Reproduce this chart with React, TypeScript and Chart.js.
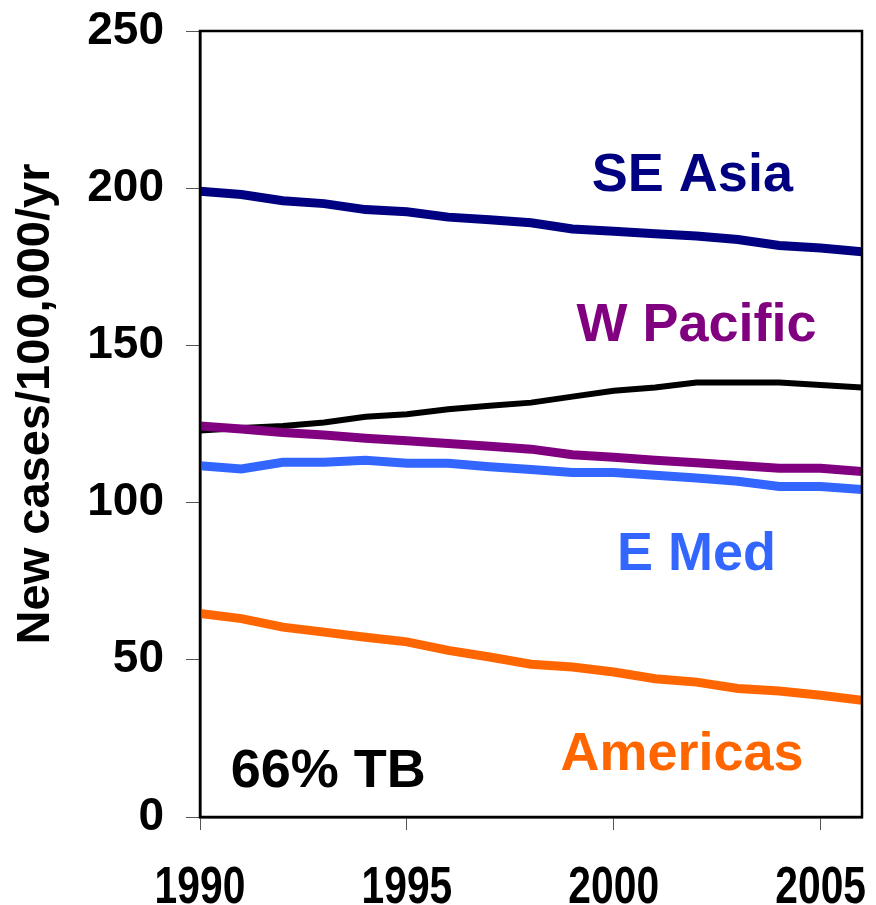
import React, { useEffect, useRef } from 'react';
import { Chart, registerables } from 'chart.js';

Chart.register(...registerables);

const years = [1990, 1991, 1992, 1993, 1994, 1995, 1996, 1997, 1998, 1999, 2000, 2001, 2002, 2003, 2004, 2005, 2006];
const seAsia = [199, 198, 196, 195.1, 193.2, 192.5, 190.8, 190, 189, 187, 186.3, 185.5, 184.8, 183.7, 181.8, 181, 179.8];
const wPacific = [124.4, 123.4, 122.3, 121.5, 120.5, 119.7, 118.8, 117.9, 117, 115.2, 114.4, 113.5, 112.7, 111.8, 110.9, 110.9, 109.9];
const globalRate = [122.9, 123.7, 124.4, 125.5, 127.3, 128.1, 129.7, 130.8, 131.8, 133.7, 135.6, 136.6, 138.2, 138.2, 138.2, 137.4, 136.6];
const eMed = [111.7, 110.7, 112.8, 112.8, 113.5, 112.5, 112.5, 111.4, 110.5, 109.6, 109.6, 108.7, 107.8, 106.8, 105.1, 105.1, 104.2];
const americas = [64.7, 63.1, 60.4, 58.8, 57.2, 55.7, 53, 50.9, 48.6, 47.7, 46.1, 44, 42.9, 40.9, 40.1, 38.7, 37.1];

const xTickValues = [1990, 1995, 2000, 2005];
const yTickValues = [0, 50, 100, 150, 200, 250];

const noteTexts = ['SE Asia', 'W Pacific', 'E Med', 'Americas', '66% TB'];
const noteYears = [2001.9, 2002.0, 2002.0, 2001.65, 1993.1];
const noteValues = [203.8, 156.2, 83.2, 19.7, 14.3];
const noteColors = ['#000080', '#800080', '#3366FF', '#FF6600', '#000000'];

const yTitle = 'New cases/100,000/yr';
const FONT = '"Liberation Sans", Arial, Helvetica, sans-serif';

const toPoints = (vals: number[]) => years.map((y, i) => ({ x: y, y: vals[i] }));

const overlay = {
  id: 'overlay',
  afterDraw(chart: any) {
    const { ctx, chartArea, scales } = chart;
    ctx.save();
    ctx.strokeStyle = '#000';
    ctx.lineWidth = 2.5;
    ctx.strokeRect(chartArea.left, chartArea.top, chartArea.right - chartArea.left, chartArea.bottom - chartArea.top);
    ctx.textAlign = 'center';
    ctx.textBaseline = 'middle';
    ctx.font = `bold 54px ${FONT}`;
    noteTexts.forEach((t, i) => {
      ctx.fillStyle = noteColors[i];
      const px = scales.x.getPixelForValue(noteYears[i]);
      const py = scales.y.getPixelForValue(noteValues[i]);
      ctx.fillText(t, px, py);
    });
    // x tick labels (narrow, tall digits as in the reference)
    ctx.fillStyle = '#000';
    ctx.font = `bold 51px ${FONT}`;
    ctx.textBaseline = 'alphabetic';
    xTickValues.forEach((v) => {
      const px = scales.x.getPixelForValue(v);
      ctx.save();
      ctx.translate(px, chartArea.bottom + 86);
      ctx.scale(0.8, 1);
      ctx.fillText(String(v), 0, 0);
      ctx.restore();
    });
    // y axis title
    ctx.textBaseline = 'middle';
    ctx.font = `bold 47px ${FONT}`;
    ctx.translate(chartArea.left - 164, chartArea.top + 373);
    ctx.rotate(-Math.PI / 2);
    ctx.fillText(yTitle, 0, 0);
    ctx.restore();
  },
};

export default function App() {
  const ref = useRef<HTMLCanvasElement | null>(null);
  useEffect(() => {
    document.body.style.margin = '0';
    if (!ref.current) return;
    const chart = new Chart(ref.current, {
      type: 'line',
      data: {
        datasets: [
          { label: 'SE Asia', data: toPoints(seAsia), borderColor: '#000080', borderWidth: 9, pointRadius: 0, order: 1 },
          { label: 'W Pacific', data: toPoints(wPacific), borderColor: '#800080', borderWidth: 9, pointRadius: 0, order: 2 },
          { label: 'Global', data: toPoints(globalRate), borderColor: '#000000', borderWidth: 6, pointRadius: 0, order: 3 },
          { label: 'E Med', data: toPoints(eMed), borderColor: '#3366FF', borderWidth: 9, pointRadius: 0, order: 4 },
          { label: 'Americas', data: toPoints(americas), borderColor: '#FF6600', borderWidth: 9, pointRadius: 0, order: 5 },
        ],
      },
      options: {
        animation: false,
        responsive: false,
        devicePixelRatio: 1,
        layout: { padding: { top: 31, right: 14, left: 0, bottom: 0 } },
        plugins: { legend: { display: false }, tooltip: { enabled: false } },
        scales: {
          x: {
            type: 'linear',
            min: 1990,
            max: 2006,
            afterBuildTicks: (s: any) => { s.ticks = xTickValues.map((v) => ({ value: v })); },
            afterFit: (s: any) => { s.height = 88; s.paddingLeft = 0; s.paddingRight = 0; s.paddingTop = 0; s.paddingBottom = 0; },
            ticks: { display: false },
            grid: { drawOnChartArea: false, drawTicks: true, tickLength: 13, color: '#555', lineWidth: 1 },
            border: { display: true, color: '#000', width: 2.5 },
          },
          y: {
            type: 'linear',
            min: 0,
            max: 250,
            afterBuildTicks: (s: any) => { s.ticks = yTickValues.map((v) => ({ value: v })); },
            afterFit: (s: any) => { s.width = 200; s.paddingLeft = 0; s.paddingRight = 0; s.paddingTop = 0; s.paddingBottom = 0; },
            ticks: { color: '#000', font: { family: FONT, size: 46, weight: 'bold' }, padding: 22 },
            grid: { drawOnChartArea: false, drawTicks: true, tickLength: 14, color: '#555', lineWidth: 1 },
            border: { display: true, color: '#000', width: 2.5 },
          },
        },
      },
      plugins: [overlay],
    });
    return () => chart.destroy();
  }, []);
  return (
    <div style={{ position: 'absolute', left: 0, top: 0, width: 876, height: 905 }}>
      <canvas ref={ref} width={876} height={905} style={{ display: 'block', width: 876, height: 905 }} />
    </div>
  );
}
